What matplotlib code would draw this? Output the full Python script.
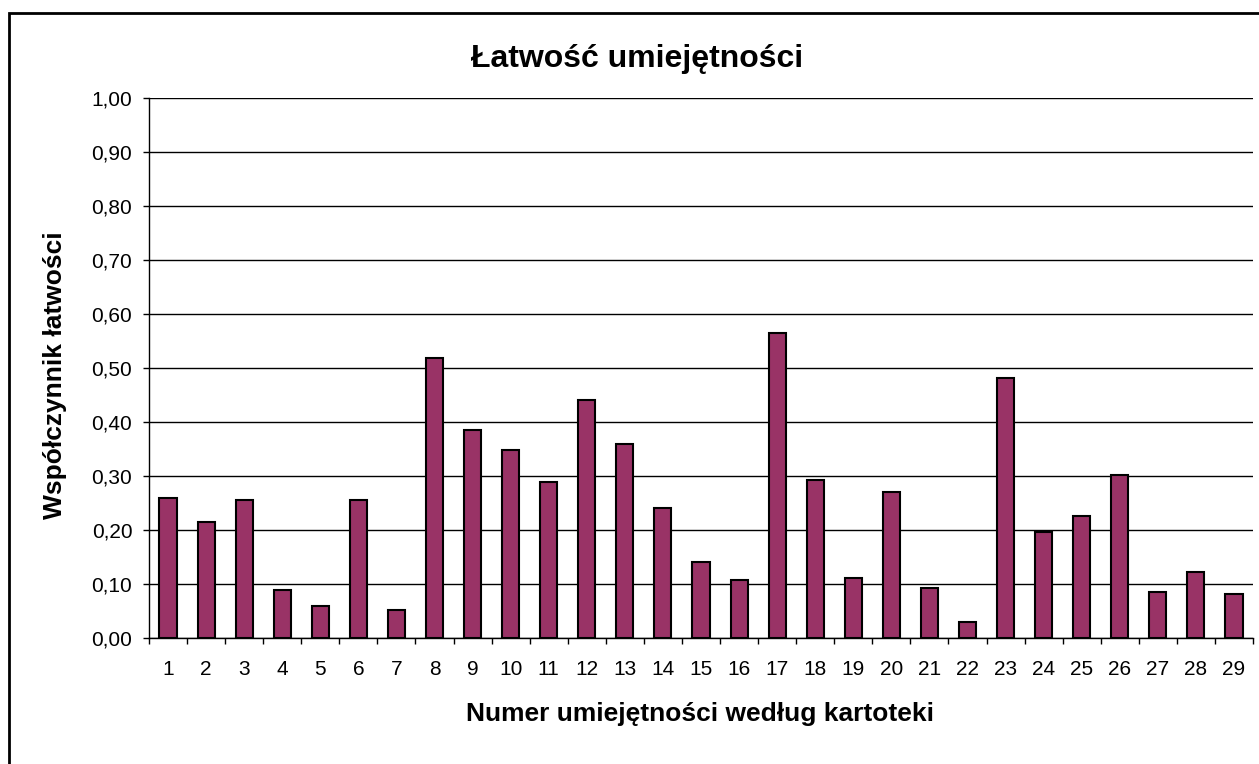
import numpy as np
import matplotlib
matplotlib.use("Agg")
import matplotlib.pyplot as plt
from matplotlib.patches import Rectangle
from matplotlib.ticker import FixedLocator, FuncFormatter

plt.rcParams["font.family"] = ["Liberation Sans", "DejaVu Sans"]

# values
categories = [str(i) for i in range(1, 30)]
values = [0.259, 0.215, 0.256, 0.089, 0.060, 0.256, 0.052, 0.519, 0.386, 0.348,
          0.289, 0.441, 0.359, 0.241, 0.141, 0.107, 0.564, 0.293, 0.112, 0.271,
          0.093, 0.030, 0.482, 0.196, 0.226, 0.301, 0.085, 0.122, 0.081]
y_ticks = [0.0, 0.1, 0.2, 0.3, 0.4, 0.5, 0.6, 0.7, 0.8, 0.9, 1.0]

W, H = 1259, 764
fig = plt.figure(figsize=(W / 100, H / 100), dpi=100)
ax = fig.add_axes([149 / W, 1 - 638 / H, (1253 - 149) / W, (638 - 98) / H])

x = np.arange(len(categories))
ax.bar(x, values, width=0.45, color="#993366", edgecolor="black", linewidth=1.5, zorder=3)

ax.set_xlim(-0.5, len(categories) - 0.5)
ax.set_ylim(0, 1.0)

# y axis
ax.set_yticks(y_ticks)
ax.yaxis.set_major_formatter(FuncFormatter(lambda v, p: f"{v:.2f}".replace(".", ",")))
ax.grid(axis="y", color="black", linewidth=1, zorder=1)
ax.tick_params(axis="y", direction="out", length=4.5, width=1, pad=7.5, labelsize=15)

# x axis: ticks between categories, labels centered
ax.xaxis.set_major_locator(FixedLocator(np.arange(-0.5, len(categories), 1.0)))
ax.xaxis.set_minor_locator(FixedLocator(x))
ax.set_xticklabels([], minor=False)
ax.set_xticklabels(categories, minor=True)
ax.tick_params(axis="x", which="major", direction="out", length=4.5, width=1)
ax.tick_params(axis="x", which="minor", length=0, pad=15.5, labelsize=15)

for side in ["top", "right"]:
    ax.spines[side].set_visible(False)
for side in ["left", "bottom"]:
    ax.spines[side].set_linewidth(1)
    ax.spines[side].set_zorder(4)

fig.text(637 / W, 1 - 59 / H, "Łatwość umiejętności", ha="center", va="center",
         fontsize=23, fontweight="bold")
fig.text(700 / W, 1 - 714 / H, "Numer umiejętności według kartoteki", ha="center",
         va="center", fontsize=19, fontweight="bold")
fig.text(55 / W, 1 - 375 / H, "Współczynnik łatwości", ha="center", va="center",
         rotation=90, fontsize=19, fontweight="bold")

# outer chart frame
fig.add_artist(Rectangle((8.5 / W, -0.1), 2, 1 - 13.5 / H + 0.1, transform=fig.transFigure,
                         fill=False, edgecolor="black", linewidth=2))

fig.savefig("out.png", dpi=100, facecolor="white")
